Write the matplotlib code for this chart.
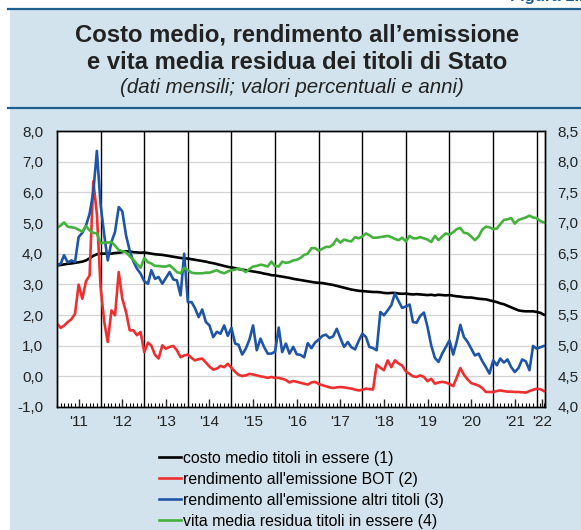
import matplotlib
matplotlib.use("Agg")
import matplotlib.pyplot as plt
import matplotlib.dates as mdates
from matplotlib.lines import Line2D
import numpy as np
import pandas as pd

plt.rcParams['font.family'] = ['Liberation Sans', 'DejaVu Sans']

# monthly data, Jan 2011 - Mar 2022
dates = pd.date_range('2011-01-01', periods=135, freq='MS')

# costo medio titoli in essere (left axis, %)
costo_medio = [
    3.62, 3.63, 3.65, 3.67, 3.68, 3.70, 3.72, 3.74, 3.78, 3.85, 3.93, 3.98,
    4.00, 4.00, 4.01, 4.00, 4.02, 4.03, 4.05, 4.08, 4.07, 4.05, 4.04, 4.03,
    4.04, 4.02, 4.00, 3.98, 3.97, 3.96, 3.94, 3.92, 3.90, 3.88, 3.86, 3.85,
    3.84, 3.82, 3.80, 3.78, 3.76, 3.74, 3.71, 3.69, 3.66, 3.63, 3.60, 3.57,
    3.55, 3.53, 3.50, 3.48, 3.46, 3.44, 3.42, 3.40, 3.38, 3.35, 3.33, 3.30,
    3.29, 3.27, 3.25, 3.23, 3.21, 3.18, 3.16, 3.14, 3.12, 3.10, 3.08, 3.06,
    3.05, 3.04, 3.02, 3.00, 2.98, 2.95, 2.92, 2.89, 2.86, 2.83, 2.81, 2.79,
    2.78, 2.77, 2.76, 2.75, 2.75, 2.74, 2.72, 2.71, 2.72, 2.72, 2.70, 2.69,
    2.70, 2.68, 2.67, 2.68, 2.67, 2.66, 2.65, 2.66, 2.64, 2.66, 2.65, 2.64,
    2.65, 2.63, 2.61, 2.60, 2.58, 2.57, 2.57, 2.55, 2.53, 2.52, 2.51, 2.48,
    2.45, 2.42, 2.38, 2.35, 2.30, 2.25, 2.20, 2.15, 2.13, 2.12, 2.12, 2.12,
    2.10, 2.07, 2.01,
]

# rendimento all'emissione BOT (left axis, %)
rend_bot = [
    1.72, 1.58, 1.65, 1.77, 1.86, 2.04, 2.99, 2.53, 3.10, 3.29, 6.36, 5.30,
    2.90, 1.77, 1.12, 2.15, 1.99, 3.40, 2.53, 2.10, 1.50, 1.50, 1.34, 1.45,
    0.79, 1.10, 1.00, 0.70, 0.58, 1.01, 0.90, 0.96, 0.99, 0.85, 0.62, 0.68,
    0.71, 0.60, 0.52, 0.56, 0.58, 0.45, 0.32, 0.22, 0.25, 0.34, 0.30, 0.41,
    0.28, 0.15, 0.05, 0.01, 0.03, 0.08, 0.06, 0.03, 0.00, -0.02, -0.05, -0.02,
    -0.05, -0.05, -0.08, -0.12, -0.20, -0.15, -0.18, -0.21, -0.24, -0.27, -0.20, -0.18,
    -0.25, -0.29, -0.32, -0.36, -0.38, -0.36, -0.35, -0.36, -0.38, -0.40, -0.43, -0.46,
    -0.44, -0.40, -0.42, -0.43, 0.38, 0.28, 0.20, 0.52, 0.30, 0.52, 0.42, 0.35,
    0.16, 0.08, 0.00, -0.02, 0.03, -0.02, -0.16, -0.08, -0.24, -0.20, -0.18, -0.20,
    -0.25, -0.32, -0.05, 0.27, 0.05, -0.10, -0.22, -0.26, -0.30, -0.38, -0.51, -0.51,
    -0.51, -0.48, -0.46, -0.48, -0.50, -0.50, -0.51, -0.51, -0.52, -0.53, -0.48, -0.44,
    -0.40, -0.42, -0.48,
]

# rendimento all'emissione altri titoli (left axis, %)
rend_altri = [
    3.64, 3.67, 3.95, 3.71, 3.78, 3.73, 4.54, 4.68, 4.92, 5.30, 6.01, 7.35,
    5.60, 4.60, 3.78, 4.38, 4.71, 5.52, 5.38, 4.60, 4.10, 3.75, 3.51, 3.35,
    3.10, 3.02, 3.46, 3.18, 3.24, 3.02, 3.21, 3.40, 3.16, 3.13, 2.64, 4.00,
    2.42, 2.42, 2.23, 1.93, 2.18, 1.77, 1.66, 1.28, 1.45, 1.39, 1.66, 1.32,
    1.58, 1.07, 1.03, 0.71, 0.90, 1.20, 1.66, 0.85, 1.23, 0.96, 0.74, 0.74,
    0.80, 1.59, 0.79, 1.07, 0.74, 0.96, 0.72, 0.70, 0.62, 1.08, 0.92, 1.10,
    1.20, 1.32, 1.36, 1.25, 1.30, 1.55, 1.25, 0.96, 1.12, 0.95, 0.88, 1.15,
    1.39, 1.28, 0.96, 0.92, 0.85, 2.10, 1.99, 2.15, 2.32, 2.70, 2.45, 2.23,
    2.28, 2.34, 1.77, 1.75, 1.97, 2.08, 1.61, 1.01, 0.60, 0.47, 0.74, 0.95,
    1.17, 0.71, 1.12, 1.68, 1.28, 1.12, 0.90, 0.68, 0.74, 0.50, 0.30, 0.09,
    0.52, 0.36, 0.58, 0.45, 0.55, 0.30, 0.14, 0.27, 0.55, 0.49, 0.20, 0.99,
    0.90, 0.95, 0.99,
]

# vita media residua titoli in essere (right axis, anni)
vita_media = [
    6.92, 6.96, 7.01, 6.94, 6.93, 6.92, 6.89, 6.86, 6.95, 6.88, 6.84, 6.83,
    6.67, 6.68, 6.68, 6.69, 6.63, 6.56, 6.54, 6.52, 6.46, 6.40, 6.33, 6.27,
    6.43, 6.36, 6.34, 6.30, 6.30, 6.29, 6.29, 6.31, 6.26, 6.20, 6.18, 6.27,
    6.23, 6.19, 6.18, 6.18, 6.18, 6.19, 6.19, 6.21, 6.23, 6.20, 6.18, 6.21,
    6.23, 6.24, 6.26, 6.24, 6.20, 6.25, 6.29, 6.30, 6.32, 6.31, 6.29, 6.37,
    6.30, 6.29, 6.37, 6.35, 6.36, 6.39, 6.40, 6.43, 6.48, 6.50, 6.59, 6.59,
    6.55, 6.58, 6.61, 6.61, 6.65, 6.74, 6.68, 6.73, 6.71, 6.70, 6.77, 6.75,
    6.78, 6.83, 6.80, 6.76, 6.76, 6.77, 6.78, 6.79, 6.77, 6.74, 6.72, 6.76,
    6.70, 6.79, 6.75, 6.75, 6.77, 6.75, 6.73, 6.69, 6.79, 6.72, 6.78, 6.83,
    6.81, 6.85, 6.90, 6.92, 6.84, 6.83, 6.78, 6.72, 6.78, 6.89, 6.94, 6.93,
    6.90, 6.91, 6.98, 7.05, 7.06, 7.08, 6.99, 7.05, 7.07, 7.09, 7.12, 7.09,
    7.08, 7.03, 7.01,
]

labels = [
    "costo medio titoli in essere (1)",
    "rendimento all'emissione BOT (2)",
    "rendimento all'emissione altri titoli (3)",
    "vita media residua titoli in essere (4)",
]
colors = ['#000000', '#ee2f2f', '#1f55a6', '#44b23c']

bg = '#d3e3ed'
navy = '#1d5f8e'

fig = plt.figure(figsize=(5.81, 5.30), dpi=100)
fig.patch.set_facecolor('white')

# light blue panel and rules
fig.patches.append(plt.Rectangle((10 / 581, 0), 1, 1 - 9 / 530, transform=fig.transFigure,
                                 facecolor=bg, edgecolor='none', zorder=-10))
fig.add_artist(Line2D([8 / 581, 1], [1 - 9 / 530] * 2, color=navy, lw=1.6))
fig.add_artist(Line2D([8 / 581, 1], [1 - 108 / 530] * 2, color=navy, lw=1.6))

fig.text(0.877, 0.993, "Figura 1.1", color=navy, fontsize=12, fontweight='bold', ha='left', va='bottom')
fig.text(0.511, 0.934, "Costo medio, rendimento all\u2019emissione", ha='center', va='center',
         fontsize=17.2, fontweight='bold', color='#222222')
fig.text(0.511, 0.883, "e vita media residua dei titoli di Stato", ha='center', va='center',
         fontsize=17.2, fontweight='bold', color='#222222')
fig.text(0.503, 0.834, "(dati mensili; valori percentuali e anni)", ha='center', va='center',
         fontsize=14.8, style='italic', color='#222222')

ax = fig.add_axes([57 / 581, 1 - 407 / 530, (545 - 57) / 581, (407 - 131) / 530])
ax.set_facecolor('white')
ax2 = ax.twinx()

ax.plot(dates, costo_medio, color=colors[0], lw=1.9, label=labels[0], zorder=3)
ax.plot(dates, rend_bot, color=colors[1], lw=1.9, label=labels[1], zorder=3)
ax.plot(dates, rend_altri, color=colors[2], lw=1.9, label=labels[2], zorder=4)
ax2.plot(dates, vita_media, color=colors[3], lw=1.9, label=labels[3])

ax.set_ylim(-1, 8)
ax2.set_ylim(4.0, 8.5)
ax.set_xlim(dates[0], dates[-1] + pd.Timedelta(days=10))
ax.set_yticks(np.arange(-1, 9, 1))
ax2.set_yticks(np.arange(4.0, 8.51, 0.5))
fmt = lambda v: f"{v:.1f}".replace('.', ',')
ax.set_yticklabels([fmt(v) for v in np.arange(-1, 9, 1)])
ax2.set_yticklabels([fmt(v) for v in np.arange(4.0, 8.51, 0.5)])
ax.grid(axis='y', color='#d4d4d4', lw=0.9)
ax.set_axisbelow(True)

# year separators
for yr in range(2012, 2023):
    ax.axvline(pd.Timestamp(f'{yr}-01-01'), color='black', lw=1.0, zorder=2)

# x ticks: labels at mid-year, monthly minor ticks
major = [pd.Timestamp(f'{yr}-07-01') for yr in range(2011, 2022)] + [pd.Timestamp('2022-02-15')]
ax.set_xticks(major)
ax.set_xticklabels([f"'{yr % 100}" for yr in range(2011, 2023)])
ax.xaxis.set_minor_locator(mdates.MonthLocator())
ax.tick_params(axis='x', which='major', direction='in', length=6, width=1, labelsize=11, pad=6, color='black')
ax.tick_params(axis='x', which='minor', direction='in', length=3, width=0.8)
ax.tick_params(axis='y', length=0, labelsize=11, pad=10, colors='#222222')
ax2.tick_params(axis='y', length=0, labelsize=11, pad=9, colors='#222222')
ax.tick_params(axis='x', colors='#222222')

for a in (ax, ax2):
    for s in a.spines.values():
        s.set_color('black')
        s.set_linewidth(1.0)

handles = ax.get_lines()[:3] + ax2.get_lines()
fig.legend(handles, labels, loc='upper left', bbox_to_anchor=(0.274, 0.150),
           frameon=False, fontsize=11.4, handlelength=1.4, handletextpad=0.1,
           labelspacing=0.38, borderpad=0, borderaxespad=0)

fig.savefig('out.png', dpi=100, facecolor=fig.get_facecolor())
